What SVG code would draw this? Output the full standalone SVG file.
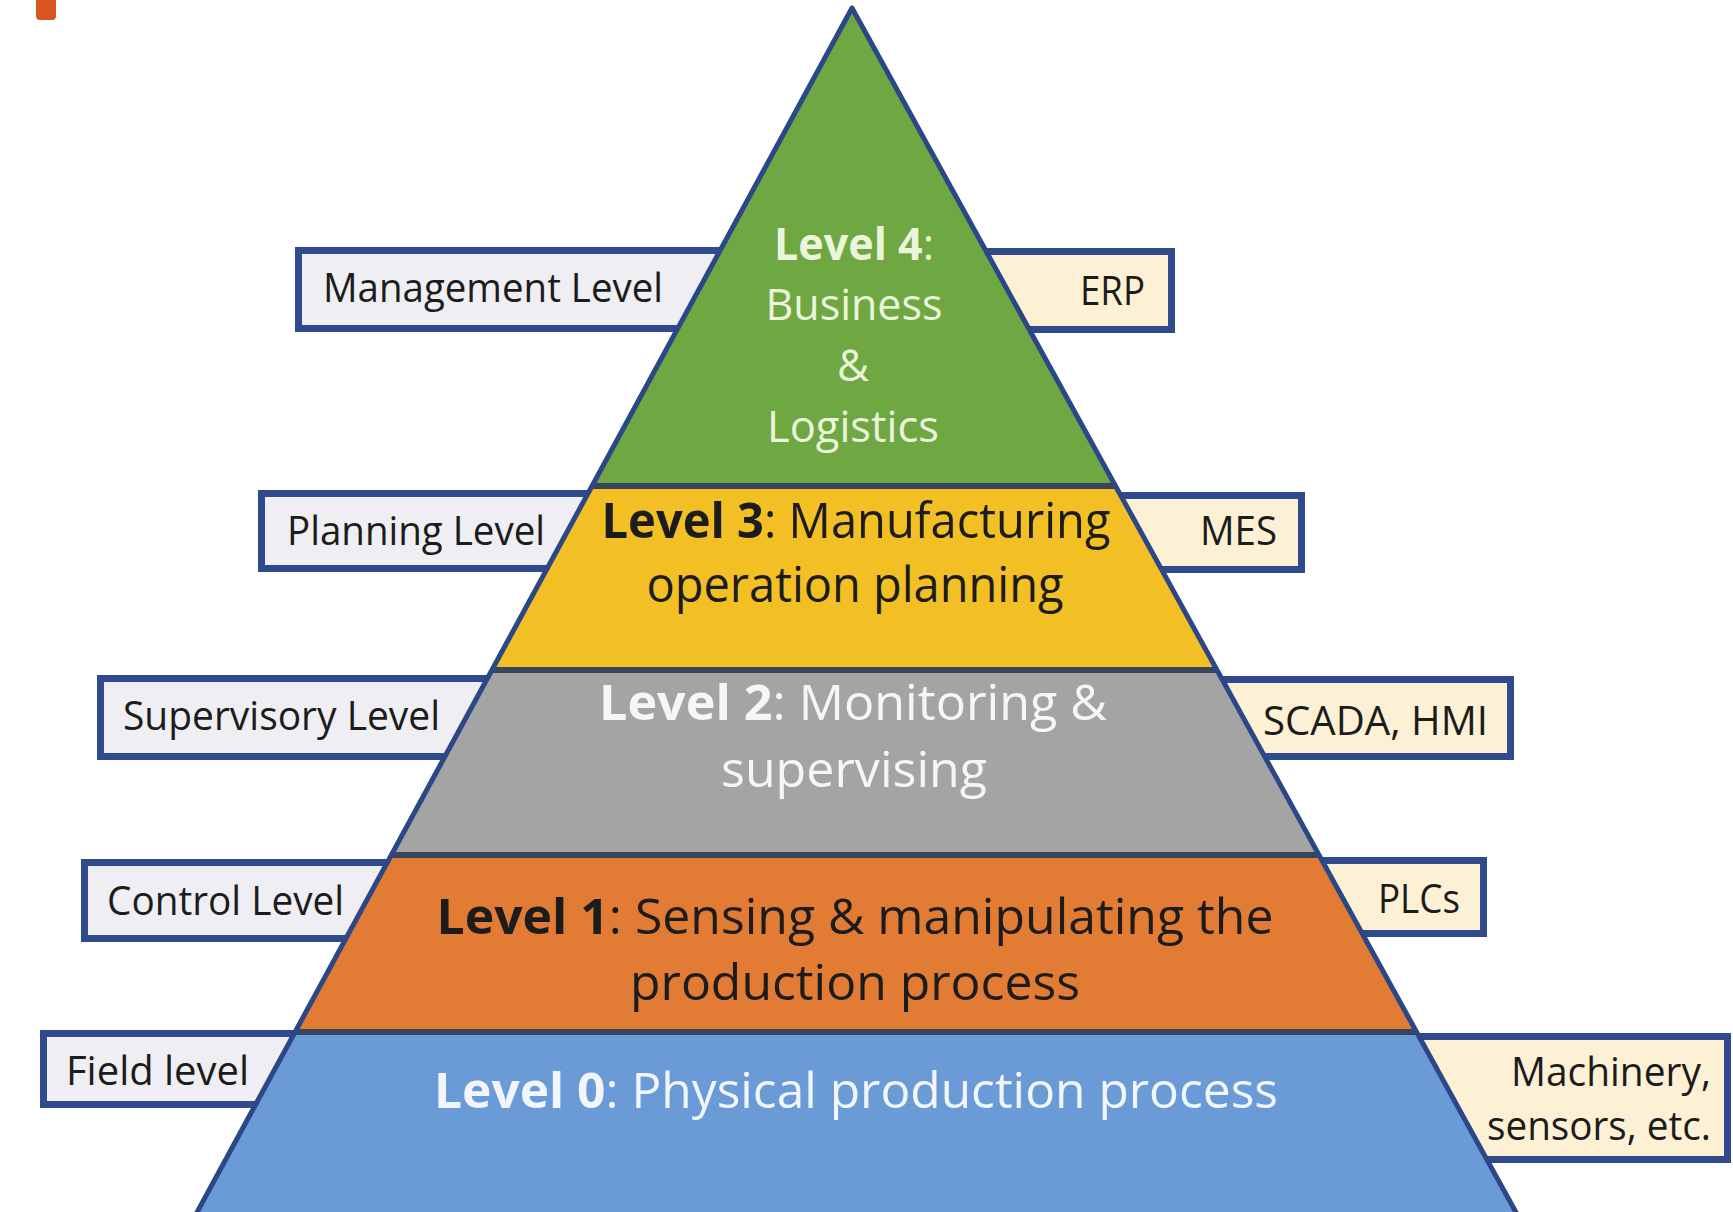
<svg xmlns="http://www.w3.org/2000/svg" width="1733" height="1212" viewBox="0 0 1733 1212">
<style>
.lbox{fill:#eeeef3;stroke:#2f4b8d;stroke-width:7}
.rbox{fill:#fcf1d4;stroke:#2f4b8d;stroke-width:7}
.lab{font-family:"Open Sans","Liberation Sans",sans-serif;font-size:40px;fill:#1c1c1c}
.lvl{font-family:"Open Sans","Liberation Sans",sans-serif;font-size:49px;text-anchor:middle}
.l4{font-size:44px;fill:#eaf5dc}
.b{font-weight:bold}
.sep{stroke:#39445e;stroke-width:6}
.edge{fill:none;stroke:#2c4788;stroke-width:5;stroke-linejoin:round}
</style>
<rect x="0" y="0" width="1733" height="1212" fill="#ffffff"/>
<rect x="36" y="-10" width="20" height="30" rx="4" fill="#d9541e"/>

<g id="left-labels">
<g id="management-level"><rect class="lbox" x="298.5" y="250.5" width="461.5" height="78"/><text class="lab" x="323" y="302" textLength="340" lengthAdjust="spacingAndGlyphs">Management Level</text></g>
<g id="planning-level"><rect class="lbox" x="261.5" y="493.5" width="388.5" height="75"/><text class="lab" x="287" y="545" textLength="258" lengthAdjust="spacingAndGlyphs">Planning Level</text></g>
<g id="supervisory-level"><rect class="lbox" x="100.5" y="678.5" width="459.5" height="78"/><text class="lab" x="123" y="730" textLength="317" lengthAdjust="spacingAndGlyphs">Supervisory Level</text></g>
<g id="control-level"><rect class="lbox" x="84.5" y="862.5" width="375.5" height="76"/><text class="lab" x="107" y="915" textLength="237" lengthAdjust="spacingAndGlyphs">Control Level</text></g>
<g id="field-level"><rect class="lbox" x="43.5" y="1033.5" width="316.5" height="71"/><text class="lab" x="66" y="1085" textLength="183" lengthAdjust="spacingAndGlyphs">Field level</text></g>
</g>

<g id="right-labels">
<g id="erp"><rect class="rbox" x="950" y="251.5" width="221.5" height="78"/><text class="lab" x="1080" y="305" textLength="65" lengthAdjust="spacingAndGlyphs">ERP</text></g>
<g id="mes"><rect class="rbox" x="1050" y="495.5" width="251.5" height="74"/><text class="lab" x="1200" y="545" textLength="77" lengthAdjust="spacingAndGlyphs">MES</text></g>
<g id="scada-hmi"><rect class="rbox" x="1150" y="679.5" width="360.5" height="77"/><text class="lab" x="1263" y="735" textLength="225" lengthAdjust="spacingAndGlyphs">SCADA, HMI</text></g>
<g id="plcs"><rect class="rbox" x="1250" y="860.5" width="233.5" height="73"/><text class="lab" x="1378" y="913" textLength="82" lengthAdjust="spacingAndGlyphs">PLCs</text></g>
<g id="machinery"><rect class="rbox" x="1350" y="1036.5" width="377.5" height="123"/><text class="lab" x="1511" y="1086" textLength="200" lengthAdjust="spacingAndGlyphs">Machinery,</text><text class="lab" x="1487" y="1140" textLength="224" lengthAdjust="spacingAndGlyphs">sensors, etc.</text></g>
</g>

<g id="pyramid">
<g id="level4"><polygon points="852,8 592,486 1116,486" fill="#6fa843"/>
<text class="lvl l4" x="854" y="260" textLength="160" lengthAdjust="spacingAndGlyphs"><tspan class="b">Level 4</tspan>:</text>
<text class="lvl l4" x="854" y="320" textLength="177" lengthAdjust="spacingAndGlyphs">Business</text>
<text class="lvl l4" x="853" y="381">&amp;</text>
<text class="lvl l4" x="853" y="442" textLength="172" lengthAdjust="spacingAndGlyphs">Logistics</text></g>
<g id="level3"><polygon points="592,486 1116,486 1217,670 492,670" fill="#f2bf24"/>
<text class="lvl" x="856" y="538" fill="#1c1c1c" textLength="509" lengthAdjust="spacingAndGlyphs"><tspan class="b">Level 3</tspan>: Manufacturing</text>
<text class="lvl" x="855" y="602" fill="#1c1c1c" textLength="417" lengthAdjust="spacingAndGlyphs">operation planning</text></g>
<g id="level2"><polygon points="492,670 1217,670 1319,855 391,855" fill="#a4a4a4"/>
<text class="lvl" x="853" y="720" fill="#f6f6f6" textLength="508" lengthAdjust="spacingAndGlyphs"><tspan class="b">Level 2</tspan>: Monitoring &amp;</text>
<text class="lvl" x="854" y="787" fill="#f6f6f6" textLength="266" lengthAdjust="spacingAndGlyphs">supervising</text></g>
<g id="level1"><polygon points="391,855 1319,855 1417,1032 295,1032" fill="#e27b33"/>
<text class="lvl" x="855" y="934" fill="#1c1c1c" textLength="837" lengthAdjust="spacingAndGlyphs"><tspan class="b">Level 1</tspan>: Sensing &amp; manipulating the</text>
<text class="lvl" x="855" y="1000" fill="#1c1c1c" textLength="450" lengthAdjust="spacingAndGlyphs">production process</text></g>
<g id="level0"><polygon points="295,1032 1417,1032 1518,1216 195,1216" fill="#6a9bd6"/>
<text class="lvl" x="856" y="1108" fill="#f2f6fc" textLength="844" lengthAdjust="spacingAndGlyphs"><tspan class="b">Level 0</tspan>: Physical production process</text></g>
<line class="sep" x1="592" y1="486" x2="1116" y2="486"/>
<line class="sep" x1="492" y1="670" x2="1217" y2="670"/>
<line class="sep" x1="391" y1="855" x2="1319" y2="855"/>
<line class="sep" x1="295" y1="1032" x2="1417" y2="1032"/>
<polygon class="edge" points="852,8 1518,1216 195,1216"/>
</g>
</svg>
